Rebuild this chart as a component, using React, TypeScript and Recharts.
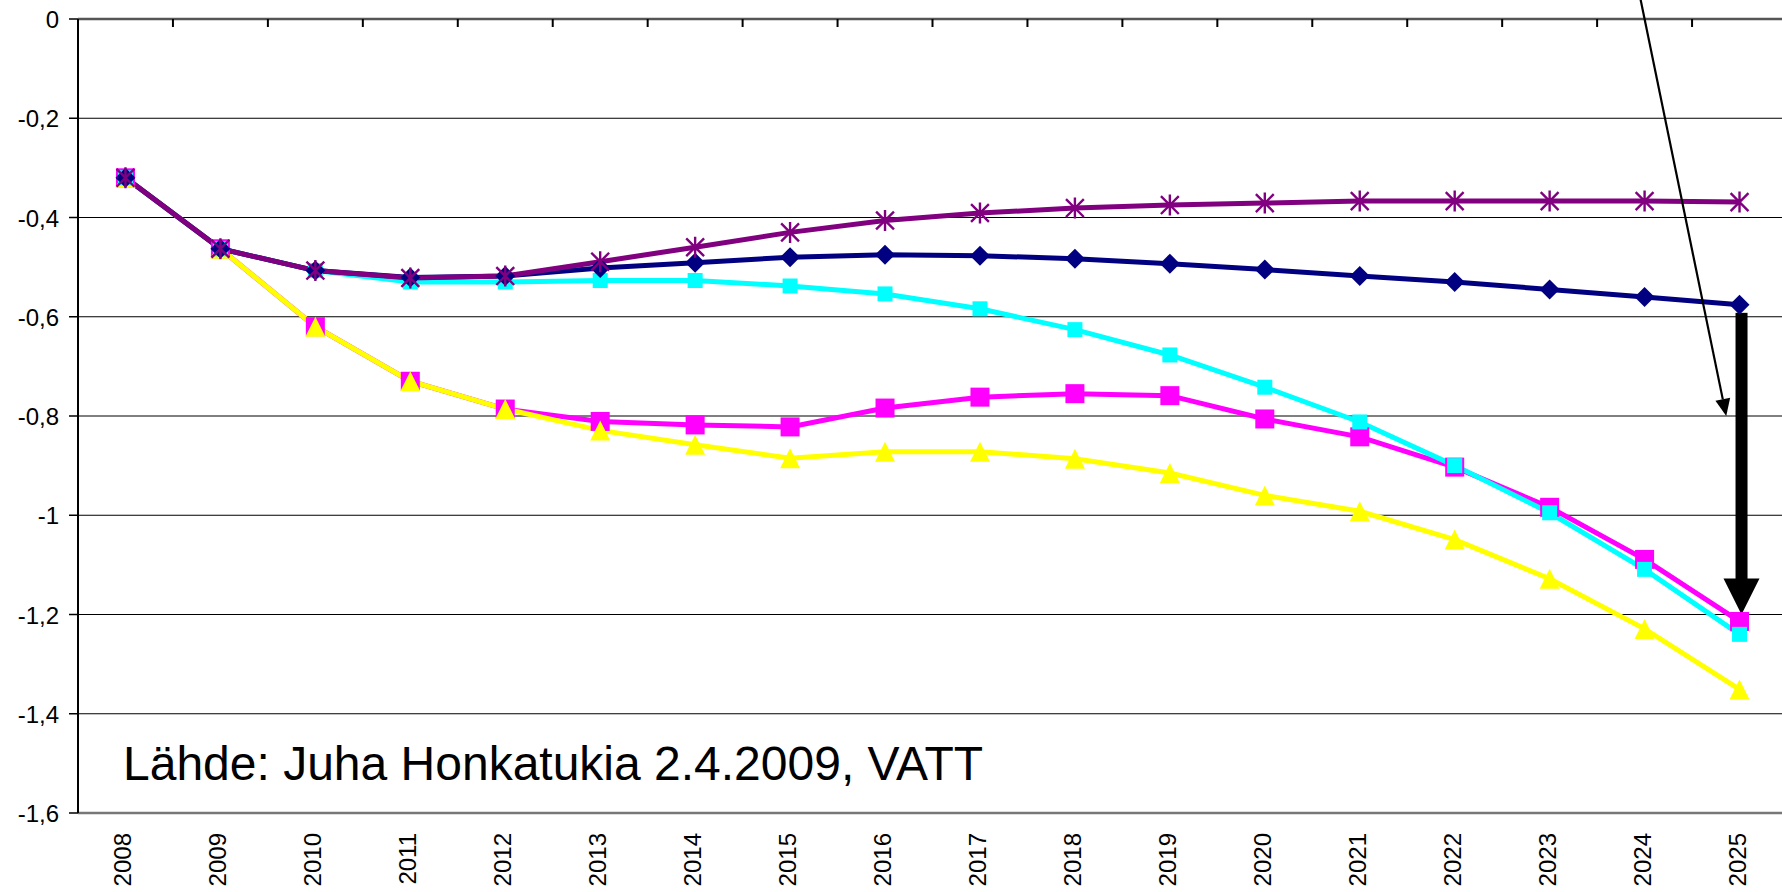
import React from 'react';
import { LineChart, Line, XAxis, YAxis, CartesianGrid, ReferenceLine, Customized } from 'recharts';

const years = ['2008','2009','2010','2011','2012','2013','2014','2015','2016','2017','2018','2019','2020','2021','2022','2023','2024','2025'];

const navySeries = [-0.32, -0.463, -0.507, -0.521, -0.518, -0.502, -0.491, -0.480, -0.475, -0.477, -0.483, -0.493, -0.505, -0.518, -0.530, -0.545, -0.560, -0.576];
const purpleSeries = [-0.32, -0.463, -0.507, -0.522, -0.518, -0.489, -0.460, -0.430, -0.406, -0.391, -0.381, -0.375, -0.371, -0.367, -0.367, -0.367, -0.367, -0.369];
const cyanSeries = [-0.32, -0.463, -0.507, -0.530, -0.530, -0.527, -0.527, -0.538, -0.554, -0.584, -0.626, -0.677, -0.742, -0.812, -0.900, -0.995, -1.109, -1.240];
const magentaSeries = [-0.32, -0.463, -0.620, -0.730, -0.786, -0.811, -0.818, -0.822, -0.784, -0.762, -0.755, -0.759, -0.806, -0.842, -0.903, -0.984, -1.089, -1.214];
const yellowSeries = [-0.32, -0.463, -0.620, -0.730, -0.786, -0.829, -0.858, -0.885, -0.872, -0.872, -0.886, -0.915, -0.960, -0.992, -1.049, -1.128, -1.229, -1.351];

const yTicks = [0, -0.2, -0.4, -0.6, -0.8, -1, -1.2, -1.4, -1.6];
const sourceText = 'Lähde: Juha Honkatukia 2.4.2009, VATT';

// annotation anchors (category index, value)
const thinArrowFrom = { x: 16, y: 0 };
const thinArrowTo = { x: 17, y: -0.8 };
const thickArrowTo = -1.2;

const data = years.map((year, i) => ({
  i,
  year,
  navy: navySeries[i],
  purple: purpleSeries[i],
  cyan: cyanSeries[i],
  magenta: magentaSeries[i],
  yellow: yellowSeries[i],
}));

const xIdx = years.map((_, i) => i);
const boundaries = years.slice(1).map((_, i) => i + 0.5);

const FONT = '"Liberation Sans", Arial, sans-serif';

const diamondDot = (color: string, r: number) => (props: any) => {
  const { cx, cy, index } = props;
  if (cx == null || cy == null) return <g key={`dn-${index}`} />;
  return <path key={`dia-${index}`} d={`M${cx},${cy - r}L${cx + r},${cy}L${cx},${cy + r}L${cx - r},${cy}Z`} fill={color} />;
};
const squareDot = (color: string, h: number) => (props: any) => {
  const { cx, cy, index } = props;
  if (cx == null || cy == null) return <g key={`sn-${index}`} />;
  return <rect key={`sq-${color}-${index}`} x={cx - h} y={cy - h} width={2 * h} height={2 * h} fill={color} />;
};
const triangleDot = (color: string, h: number) => (props: any) => {
  const { cx, cy, index } = props;
  if (cx == null || cy == null) return <g key={`tn-${index}`} />;
  return <path key={`tri-${index}`} d={`M${cx},${cy - h}L${cx + h},${cy + h}L${cx - h},${cy + h}Z`} fill={color} />;
};
const starDot = (color: string, r: number) => (props: any) => {
  const { cx, cy, index } = props;
  if (cx == null || cy == null) return <g key={`stn-${index}`} />;
  const d = r * 0.85;
  return (
    <path
      key={`star-${index}`}
      d={`M${cx},${cy - r}L${cx},${cy + r}M${cx - d},${cy - d}L${cx + d},${cy + d}M${cx + d},${cy - d}L${cx - d},${cy + d}`}
      stroke={color}
      strokeWidth={2.4}
      fill="none"
    />
  );
};

const YTick = (props: any) => {
  const { x, y, payload } = props;
  const label = String(payload.value).replace('.', ',');
  return (
    <text x={x} y={y + 9} textAnchor="end" fontSize={24} fontFamily={FONT} fill="#000">
      {label}
    </text>
  );
};

const XTick = (props: any) => {
  const { x, y, payload } = props;
  return (
    <text transform={`translate(${x + 6},${y}) rotate(-90)`} textAnchor="end" fontSize={24} fontFamily={FONT} fill="#000">
      {years[payload.value]}
    </text>
  );
};

const TopTick = (props: any) => {
  const { x1, y1 } = props;
  if (x1 == null || y1 == null || isNaN(x1) || isNaN(y1)) return <g />;
  return <line x1={x1} y1={y1} x2={x1} y2={y1 + 8} stroke="#000" strokeWidth={2} />;
};

const ThinArrow = (props: any) => {
  const { x1, y1, x2, y2 } = props;
  if ([x1, y1, x2, y2].some((v) => v == null || isNaN(v))) return <g />;
  const tx = x1 + 0.86 * (x2 - x1);
  const ty = y2;
  const dx = tx - x1;
  const dy = ty - y1;
  const len = Math.sqrt(dx * dx + dy * dy);
  const ux = dx / len;
  const uy = dy / len;
  const sx = x1 - ux * 40;
  const sy = y1 - uy * 40;
  const headL = 17;
  const headW = 7.5;
  const bx = tx - ux * headL;
  const by = ty - uy * headL;
  const px = -uy;
  const py = ux;
  return (
    <g>
      <line x1={sx} y1={sy} x2={bx} y2={by} stroke="#000" strokeWidth={2.2} />
      <path d={`M${tx},${ty}L${bx + px * headW},${by + py * headW}L${bx - px * headW},${by - py * headW}Z`} fill="#000" />
    </g>
  );
};

const ThickArrow = (props: any) => {
  const { x1, y1, x2, y2 } = props;
  if ([x1, y1, x2, y2].some((v) => v == null || isNaN(v))) return <g />;
  const cx = x1 + 2;
  const top = y1 + 8;
  const headH = 36;
  const headHalf = 18;
  const barHalf = 6;
  return (
    <g>
      <rect x={cx - barHalf} y={top} width={barHalf * 2} height={y2 - headH - top + 1} fill="#000" />
      <path d={`M${cx - headHalf},${y2 - headH}L${cx + headHalf},${y2 - headH}L${cx},${y2}Z`} fill="#000" />
    </g>
  );
};

const SourceLabel = () => (
  <text x={123} y={780} fontSize={48} fontFamily={FONT} fill="#000">
    {sourceText}
  </text>
);

export default function App() {
  return (
    <div style={{ position: 'absolute', left: 0, top: 0, width: 1782, height: 892, overflow: 'hidden', background: '#fff' }}>
      <LineChart width={1790} height={892} data={data} margin={{ top: 19, right: 3, bottom: 0, left: 0 }}>
        <CartesianGrid vertical={false} stroke="#000" strokeWidth={1} xAxisId="bottom" />
        <XAxis
          xAxisId="bottom"
          dataKey="i"
          type="number"
          domain={[-0.5, 17.5]}
          allowDataOverflow
          ticks={xIdx}
          interval={0}
          height={79}
          tickLine={false}
          tickSize={6}
          tickMargin={14}
          tick={<XTick />}
          axisLine={{ stroke: '#777', strokeWidth: 2.5 }}
        />
        <YAxis
          type="number"
          domain={[-1.6, 0]}
          ticks={yTicks}
          interval={0}
          width={78}
          tickSize={9}
          tickMargin={10}
          tick={<YTick />}
          tickLine={{ stroke: '#000', strokeWidth: 1.5 }}
          axisLine={{ stroke: '#000', strokeWidth: 2 }}
        />
        <ReferenceLine xAxisId="bottom" y={0} stroke="#555" strokeWidth={2.5} ifOverflow="visible" />
        {boundaries.map((b) => (
          <ReferenceLine
            key={`tt-${b}`}
            xAxisId="bottom"
            ifOverflow="visible"
            segment={[{ x: b, y: 0 }, { x: b, y: 0 }]}
            shape={<TopTick />}
          />
        ))}
        <Line xAxisId="bottom" type="linear" dataKey="magenta" stroke="#FF00FF" strokeWidth={5} dot={squareDot('#FF00FF', 9.5)} activeDot={false} isAnimationActive={false} />
        <Line xAxisId="bottom" type="linear" dataKey="yellow" stroke="#FFFF00" strokeWidth={5} dot={triangleDot('#FFFF00', 10)} activeDot={false} isAnimationActive={false} />
        <Line xAxisId="bottom" type="linear" dataKey="cyan" stroke="#00FFFF" strokeWidth={5} dot={squareDot('#00FFFF', 7.5)} activeDot={false} isAnimationActive={false} />
        <Line xAxisId="bottom" type="linear" dataKey="navy" stroke="#000080" strokeWidth={5} dot={diamondDot('#000080', 10)} activeDot={false} isAnimationActive={false} />
        <Line xAxisId="bottom" type="linear" dataKey="purple" stroke="#800080" strokeWidth={5} dot={starDot('#800080', 10.5)} activeDot={false} isAnimationActive={false} />
        <ReferenceLine
          xAxisId="bottom"
          ifOverflow="visible"
          segment={[thinArrowFrom, thinArrowTo]}
          shape={<ThinArrow />}
        />
        <ReferenceLine
          xAxisId="bottom"
          ifOverflow="visible"
          segment={[{ x: 17, y: navySeries[17] }, { x: 17, y: thickArrowTo }]}
          shape={<ThickArrow />}
        />
        <Customized component={<SourceLabel />} />
      </LineChart>
    </div>
  );
}
